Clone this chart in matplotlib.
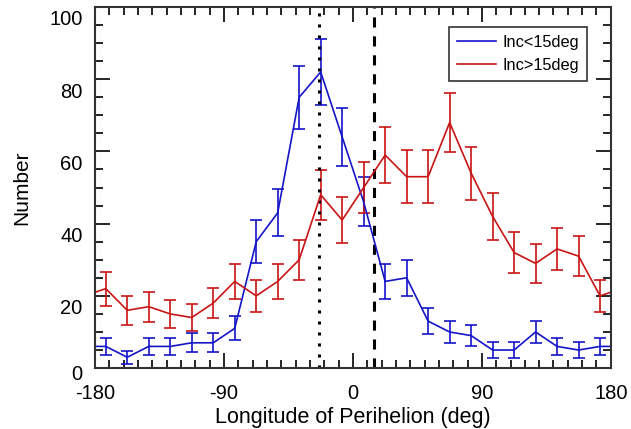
import numpy as np
import matplotlib
matplotlib.use("Agg")
import matplotlib.pyplot as plt
import matplotlib.transforms as mtransforms
from matplotlib.ticker import MultipleLocator
from matplotlib.lines import Line2D

plt.rcParams["font.family"] = ["Liberation Sans", "DejaVu Sans"]
plt.rcParams["axes.unicode_minus"] = False

# bin centres (15 deg bins)
centres = np.arange(-172.5, 180, 15)
low_inc = [6, 3, 6, 6, 7, 7, 11, 35, 43, 75, 82, 64, 46, 24, 25, 13, 10, 9, 5, 5, 10, 6, 5, 6]
high_inc = [22, 16, 17, 15, 14, 18, 24, 20, 24, 30, 48, 41, 50, 59, 53, 53, 68, 54, 42, 32, 29, 33, 31, 20]

dotted_x = -24
dashed_x = 15


def wrap(x, y):
    # add one bin on each side so the curves run to the axis edges
    x = np.concatenate([[x[0] - 15], x, [x[-1] + 15]])
    y = np.concatenate([[y[-1]], y, [y[0]]])
    return x, y


fig = plt.figure(figsize=(6.31, 4.29), dpi=100)
ax = fig.add_axes([0.1506, 0.142, 0.8174, 0.8417])

for vals, col, lab in [(low_inc, "#1414c8", "Inc<15deg"), (high_inc, "#c81414", "Inc>15deg")]:
    x, y = wrap(centres, np.array(vals, dtype=float))
    ax.errorbar(x, y, yerr=np.sqrt(y), color=col, lw=1.2, elinewidth=1.2,
                capsize=4, capthick=1.2, label=lab)

ax.axvline(dotted_x, color="black", lw=2.2, linestyle=(0, (1.0, 2.6)), dash_capstyle="butt")
ax.axvline(dashed_x, color="black", lw=2.2, linestyle=(0, (3.3, 2.9)), dash_capstyle="butt")

ax.set_xlim(-180, 180)
ax.set_ylim(0, 100)
ax.xaxis.set_major_locator(MultipleLocator(90))
ax.xaxis.set_minor_locator(MultipleLocator(10))
ax.yaxis.set_major_locator(MultipleLocator(20))
ax.yaxis.set_minor_locator(MultipleLocator(5))
ax.tick_params(which="both", direction="in", top=True, right=True, width=1.2, labelsize=14.5)
ax.tick_params(axis="x", pad=11.5)
ax.tick_params(axis="y", pad=9)
ax.tick_params(which="major", length=11)
ax.tick_params(which="minor", length=6)
for s in ax.spines.values():
    s.set_linewidth(1.5)
    s.set_color("#333333")

ax.set_xlabel("Longitude of Perihelion (deg)", fontsize=15.5, labelpad=3)
ax.set_ylabel("Number", fontsize=15, labelpad=13)

# y tick labels sit a little below their ticks
fig.canvas.draw()
for lbl in ax.get_yticklabels():
    dy = -4 if lbl.get_text() == "0" else -11
    lbl.set_transform(lbl.get_transform() + mtransforms.Affine2D().translate(0, dy))

handles, labels = ax.get_legend_handles_labels()
handles = [Line2D([], [], color=h[0].get_color(), lw=1.2) for h in handles]
leg = ax.legend(handles, labels, loc="upper right", fontsize=11.8, fancybox=False,
                edgecolor="#333333", framealpha=1, handlelength=2.4, handletextpad=0.35,
                labelspacing=0.45, borderpad=0.5, borderaxespad=0,
                bbox_to_anchor=(587 / 631, 1 - 27 / 429), bbox_transform=fig.transFigure)
leg.get_frame().set_linewidth(1.2)

fig.savefig("out.png", dpi=100)
